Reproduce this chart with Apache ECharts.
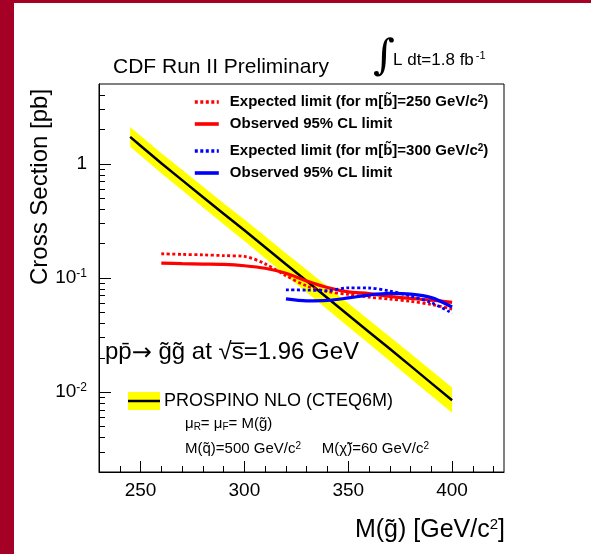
<!DOCTYPE html>
<html>
<head>
<meta charset="utf-8">
<script src="https://cdn.jsdelivr.net/npm/echarts@6/dist/echarts.min.js"></script>
<style>
  html, body { margin: 0; padding: 0; background: #fff; }
  #chart { width: 591px; height: 554px; }
</style>
</head>
<body>
<div id="chart"></div>
<script>
const FONT = '"Liberation Sans", Arial, Helvetica, sans-serif';

// PROSPINO NLO gluino-pair cross section (pb) with its uncertainty band
const theoryMass = [245, 250, 260, 270, 280, 290, 300, 310, 320, 330, 340, 350, 360, 370, 380, 390, 400];
const theoryXsec = [1.72, 1.44, 1.01, 0.72, 0.512, 0.365, 0.262, 0.186, 0.132, 0.094, 0.0668, 0.0474, 0.0337, 0.0240, 0.0170, 0.0120, 0.0085];
const theoryHigh = [2.10, 1.76, 1.24, 0.885, 0.632, 0.452, 0.325, 0.232, 0.165, 0.118, 0.0842, 0.0600, 0.0428, 0.0306, 0.0218, 0.0155, 0.0110];
const theoryLow  = [1.41, 1.18, 0.825, 0.587, 0.416, 0.296, 0.211, 0.149, 0.105, 0.0748, 0.0530, 0.0374, 0.0265, 0.0188, 0.0132, 0.0093, 0.0066];

// 95% CL limits, sbottom mass 250 GeV/c^2
const limitMass250 = [260, 270, 280, 290, 300, 310, 320, 330, 340, 350, 360, 370, 380, 390, 400];
const expected250  = [0.163, 0.161, 0.1595, 0.157, 0.1546, 0.133, 0.105, 0.0851, 0.076, 0.0718, 0.068, 0.0653, 0.0625, 0.0586, 0.0535];
const observed250  = [0.135, 0.1337, 0.1325, 0.1315, 0.128, 0.1217, 0.110, 0.0943, 0.0825, 0.0756, 0.073, 0.069, 0.0662, 0.064, 0.0612];

// 95% CL limits, sbottom mass 300 GeV/c^2
const limitMass300 = [320, 330, 340, 350, 360, 370, 380, 390, 400];
const expected300  = [0.0787, 0.0784, 0.0776, 0.082, 0.0817, 0.0768, 0.0694, 0.0608, 0.0492];
const observed300  = [0.0656, 0.0631, 0.0637, 0.0669, 0.0709, 0.0732, 0.0722, 0.0673, 0.0557];

// axis ticks
const xMajorTicks = [250, 300, 350, 400];
const xMinorTicks = [240, 260, 270, 280, 290, 310, 320, 330, 340, 360, 370, 380, 390, 410, 420];
const yMajorTicks = [0.01, 0.1, 1];
const yMajorExp   = [-2, -1, 0];
const yMinorTicks = [0.003, 0.004, 0.005, 0.006, 0.007, 0.008, 0.009,
                     0.02, 0.03, 0.04, 0.05, 0.06, 0.07, 0.08, 0.09,
                     0.2, 0.3, 0.4, 0.5, 0.6, 0.7, 0.8, 0.9, 2, 3, 4];

const NAME_EXP250 = 'Expected limit (for m[b\u0303]=250 GeV/c2)';
const NAME_OBS250 = 'Observed 95% CL limit ';
const NAME_EXP300 = 'Expected limit (for m[b\u0303]=300 GeV/c2)';
const NAME_OBS300 = 'Observed 95% CL limit';

const legendRich = {
  t: { fontFamily: FONT, fontWeight: 'bold', fontSize: 15, color: '#000' },
  s: { fontFamily: FONT, fontWeight: 'bold', fontSize: 10, color: '#000', verticalAlign: 'top', padding: [0, 0, 6, 0] }
};
function legendText(name) {
  if (name.indexOf('GeV/c2') >= 0) {
    const base = name.replace('GeV/c2)', 'GeV/c');
    return '{t|' + base + '}{s|2}{t|)}';
  }
  return '{t|' + name.trim() + '}';
}

const chart = echarts.init(document.getElementById('chart'), null, { renderer: 'canvas' });

const axisX = (ticks, len, showLabel, showLine) => ({
  type: 'value', min: 230, max: 425, position: 'bottom',
  axisLine: { show: showLine, onZero: false, lineStyle: { color: '#000', width: 1 } },
  axisTick: { show: true, inside: true, length: len, customValues: ticks, lineStyle: { color: '#000', width: 1 } },
  axisLabel: { show: showLabel, customValues: ticks, margin: 9, fontFamily: FONT, fontSize: 19, color: '#000' },
  splitLine: { show: false }
});
const axisY = (ticks, len, showLabel, showLine) => ({
  type: 'log', logBase: 10, min: 0.002, max: 5, position: 'left',
  axisLine: { show: showLine, onZero: false, lineStyle: { color: '#000', width: 1 } },
  axisTick: { show: true, inside: true, length: len, customValues: ticks, lineStyle: { color: '#000', width: 1 } },
  axisLabel: {
    show: showLabel, customValues: ticks, margin: 12, color: '#000',
    formatter: (v) => {
      const i = yMajorTicks.findIndex(t => Math.abs(t - v) / t < 1e-6);
      if (i < 0) return '';
      if (yMajorExp[i] === 0) return '{b|1}';
      return '{b|10}{s|' + yMajorExp[i] + '}';
    },
    rich: {
      b: { fontFamily: FONT, fontSize: 19, color: '#000' },
      s: { fontFamily: FONT, fontSize: 12, color: '#000', verticalAlign: 'top', padding: [0, 0, 8, 0] }
    }
  },
  splitLine: { show: false }
});

const legendBase = {
  orient: 'vertical', left: 193, padding: 0, itemWidth: 24, itemHeight: 14, itemGap: 7,
  formatter: legendText, selectedMode: false,
  itemStyle: { opacity: 0 },
  lineStyle: { width: 3.6 },
  textStyle: { rich: legendRich, padding: [0, 0, 0, 6] }
};

const option = {
  backgroundColor: '#fff',
  animation: false,
  grid: { left: 99, top: 84, width: 405, height: 388, show: true, borderColor: '#000', borderWidth: 1, backgroundColor: 'transparent' },
  xAxis: [axisX(xMajorTicks, 11, true, true), axisX(xMinorTicks, 6, false, false)],
  yAxis: [axisY(yMajorTicks, 12, true, true), axisY(yMinorTicks, 6, false, false)],
  legend: [
    Object.assign({}, legendBase, { top: 94, data: [NAME_EXP250, NAME_OBS250] }),
    Object.assign({}, legendBase, { top: 143, data: [NAME_EXP300, NAME_OBS300] })
  ],
  series: [
    {
      // theory uncertainty band
      name: 'PROSPINO band', type: 'custom', silent: true, z: 1,
      data: [[theoryMass[0], theoryXsec[0]]],
      renderItem: (params, api) => {
        const pts = [];
        for (let i = 0; i < theoryMass.length; i++) pts.push(api.coord([theoryMass[i], theoryHigh[i]]));
        for (let i = theoryMass.length - 1; i >= 0; i--) pts.push(api.coord([theoryMass[i], theoryLow[i]]));
        return { type: 'polygon', shape: { points: pts }, style: { fill: '#ffff00' } };
      }
    },
    {
      name: 'PROSPINO NLO (CTEQ6M)', type: 'line', symbol: 'none', z: 2,
      data: theoryMass.map((m, i) => [m, theoryXsec[i]]),
      lineStyle: { color: '#000', width: 2.5 }
    },
    {
      name: NAME_EXP250, type: 'line', symbol: 'none', smooth: 0.3, z: 3,
      data: limitMass250.map((m, i) => [m, expected250[i]]),
      itemStyle: { color: '#ff0000' },
      lineStyle: { color: '#ff0000', width: 2.8, type: [3, 2.5] }
    },
    {
      name: NAME_OBS250, type: 'line', symbol: 'none', smooth: 0.3, z: 3,
      data: limitMass250.map((m, i) => [m, observed250[i]]),
      itemStyle: { color: '#ff0000' },
      lineStyle: { color: '#ff0000', width: 3.2 }
    },
    {
      name: NAME_EXP300, type: 'line', symbol: 'none', smooth: 0.3, z: 4,
      data: limitMass300.map((m, i) => [m, expected300[i]]),
      itemStyle: { color: '#0000ff' },
      lineStyle: { color: '#0000ff', width: 2.8, type: [3, 2.5] }
    },
    {
      name: NAME_OBS300, type: 'line', symbol: 'none', smooth: 0.3, z: 4,
      data: limitMass300.map((m, i) => [m, observed300[i]]),
      itemStyle: { color: '#0000ff' },
      lineStyle: { color: '#0000ff', width: 3.2 }
    }
  ],
  graphic: [
    // slide frame
    { type: 'rect', left: 0, top: 0, shape: { width: 14, height: 554 }, style: { fill: '#a50026' }, silent: true },
    { type: 'rect', left: 0, top: 0, shape: { width: 591, height: 3 }, style: { fill: '#a50026' }, silent: true },
    // header
    { type: 'text', x: 113, y: 67, style: { text: 'CDF Run II Preliminary', font: '21px ' + FONT, fill: '#000', textVerticalAlign: 'middle' } },
    { type: 'text', x: 373, y: 58, style: { text: '\u222B', font: '42px "DejaVu Serif", serif', fill: '#000', textVerticalAlign: 'middle' } },
    { type: 'text', x: 393, y: 60, style: {
        text: '{t|L dt=1.8 fb}{s|-1}', fill: '#000', textVerticalAlign: 'middle',
        rich: { t: { fontSize: 17, fontFamily: FONT }, s: { fontSize: 11, fontFamily: FONT, verticalAlign: 'top', padding: [0, 0, 8, 2] } } } },
    // process label
    { type: 'text', x: 105, y: 352, style: {
        text: '{t|pp\u0304}{a|\u2192}{t| g\u0303g\u0303 at \u221As\u0305=1.96 GeV}', fill: '#000', textVerticalAlign: 'middle',
        rich: { t: { fontSize: 24, fontFamily: FONT }, a: { fontSize: 24, fontFamily: '"DejaVu Sans", sans-serif', padding: [4, 0, 0, 0] } } } },
    // theory key
    { type: 'rect', shape: { x: 128, y: 392, width: 32, height: 18 }, style: { fill: '#ffff00' }, silent: true },
    { type: 'line', shape: { x1: 128, y1: 401, x2: 160, y2: 401 }, style: { stroke: '#000', lineWidth: 2.5 }, silent: true },
    { type: 'text', x: 164, y: 401, style: { text: 'PROSPINO NLO (CTEQ6M)', font: '18px ' + FONT, fill: '#000', textVerticalAlign: 'middle' } },
    { type: 'text', x: 185, y: 424, style: {
        text: '{t|\u03BC}{d|R}{t|= \u03BC}{d|F}{t|= M(g\u0303)}', fill: '#000', textVerticalAlign: 'middle',
        rich: { t: { fontSize: 15, fontFamily: FONT }, d: { fontSize: 10, fontFamily: FONT, verticalAlign: 'bottom', padding: [6, 0, 0, 0] } } } },
    { type: 'text', x: 185, y: 449, style: {
        text: '{t|M(q\u0303)=500 GeV/c}{s|2}{t|     M(\u03C7\u0303)=60 GeV/c}{s|2}', fill: '#000', textVerticalAlign: 'middle',
        rich: { t: { fontSize: 15, fontFamily: FONT }, s: { fontSize: 10, fontFamily: FONT, verticalAlign: 'top', padding: [0, 0, 6, 0] } } } },
    // axis titles
    { type: 'text', x: 40, y: 187, rotation: Math.PI / 2, style: { text: 'Cross Section [pb]', font: '24px ' + FONT, fill: '#000', textAlign: 'center', textVerticalAlign: 'middle' } },
    { type: 'text', x: 505, y: 530, style: {
        text: '{t|M(g\u0303) [GeV/c}{s|2}{t|]}', fill: '#000', textAlign: 'right', textVerticalAlign: 'middle',
        rich: { t: { fontSize: 25, fontFamily: FONT }, s: { fontSize: 15, fontFamily: FONT, verticalAlign: 'top', padding: [0, 0, 8, 0] } } } }
  ]
};
chart.setOption(option);
</script>
</body>
</html>
